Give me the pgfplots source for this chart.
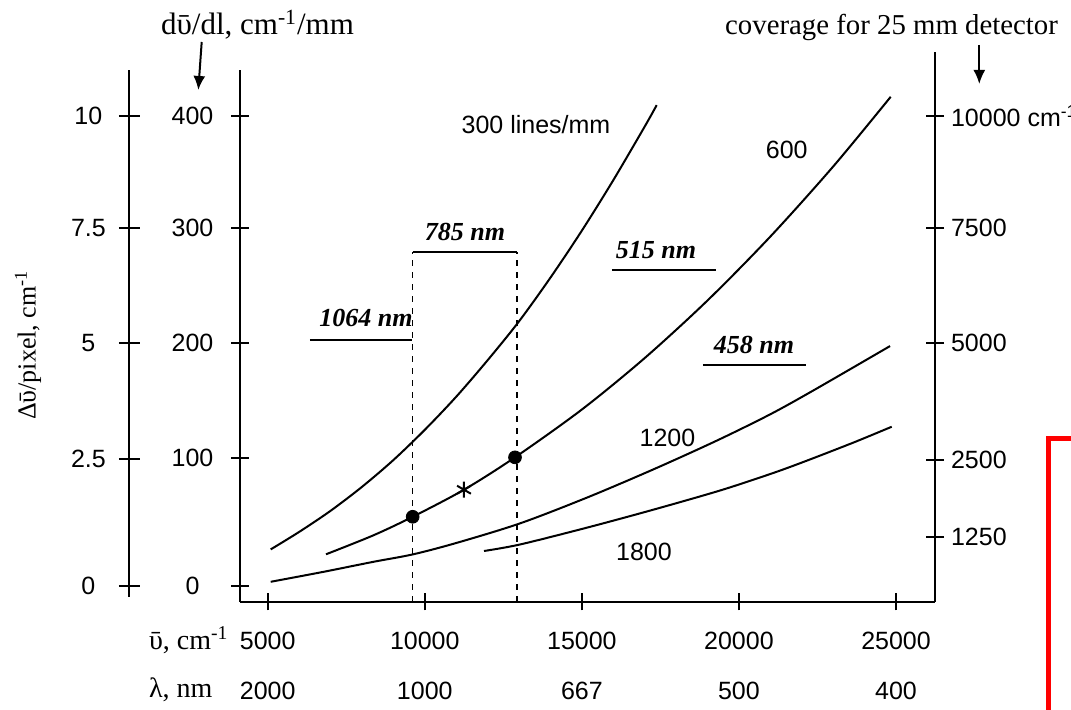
\documentclass[border=0pt]{standalone}
\usepackage{fontspec}
\setmainfont{Liberation Serif}
\newfontfamily\sans{Liberation Sans}
\usepackage{pgfplots}
\pgfplotsset{compat=1.18}
\usetikzlibrary{arrows.meta}
\begin{document}
\begin{tikzpicture}
\useasboundingbox (0,0) rectangle (535.5pt,355pt);
\pgfplotsset{
  base/.style={scale only axis, clip=false, width=347.5pt,
    xmin=4118, xmax=26241,
    tick align=inside,
    tick style={line width=1.1pt, black},
    /pgf/number format/assume math mode=true,
    ticklabel style={font=\sans\fontsize{12.5}{25}\selectfont},
  },
  noarrows/.style={
    axis line style={line width=1.1pt,-},
    every outer x axis line/.append style={-},
    every outer y axis line/.append style={-},
    every inner x axis line/.append style={-},
    every inner y axis line/.append style={-},
  }
}
% outer left axis (Delta nu / pixel)
\begin{axis}[base, at={(64.65pt,56.5pt)}, anchor=south west, width=20pt, height=263.5pt,
  ymin=-21.6, ymax=440.4, axis x line=none, axis y line=left, noarrows,
  major tick length=10.5pt, xtick=\empty,
  ytick={-11.9,99.1,201.1,301.8,400}, yticklabels={0,2.5,5,7.5,10},
  yticklabel style={anchor=center, xshift=-15.2pt}]
\addplot[draw=none] coordinates {(5000,0)};
\end{axis}
% right axis (coverage for 25 mm detector)
\begin{axis}[base, at={(120pt,54pt)}, anchor=south west, height=275pt,
  ymin=-25.9, ymax=456.1, axis x line=none, axis y line=right, noarrows,
  major tick length=9pt, xtick=\empty,
  ytick={31.1,98.5,201.1,301.8,400},
  yticklabels={1250,2500,5000,7500,{10000 cm\textsuperscript{-1}}},
  yticklabel style={anchor=west, xshift=0pt}]
\addplot[draw=none] coordinates {(5000,0)};
\end{axis}
% main axis
\begin{axis}[base, at={(120pt,54pt)}, anchor=south west, height=266pt,
  ymin=-25.9, ymax=440.4,
  axis x line=bottom, axis y line=left, noarrows, major tick length=8.5pt,
  xtick={5000,10000,15000,20000,25000},
  xticklabels={{5000\\2000},{10000\\1000},{15000\\667},{20000\\500},{25000\\400}},
  xticklabel style={align=center, anchor=north, yshift=-7pt},
  ytick={-11.7,100,201.1,301.8,400}, yticklabels={0,100,200,300,400},
  yticklabel style={anchor=center, xshift=-19.5pt}]
% 300 lines/mm
\addplot[black, line width=1pt, smooth] coordinates {
(5095,20.2) (6000,35.5) (7000,54) (8000,75) (9000,98.5) (10000,125)
(11000,154) (12000,186) (13000,220.1) (14000,258.4) (15000,299.6)
(16000,343.8) (17000,390.8) (17382,409.6)};
% 600 lines/mm
\addplot[black, line width=1pt, smooth] coordinates {
(6855,15.9) (8361,32.5) (9615,48.8) (11248,72.5) (12872,100.9)
(15000,142.8) (17000,187.9) (19000,238.4) (21000,294.4) (23000,355.8)
(24831,416.9)};
% 1200 lines/mm
\addplot[black, line width=1pt, smooth] coordinates {
(5095,-8.2) (6769,0.5) (8361,9.3) (9615,15.8) (11000,25.8) (13031,43.0)
(15154,65.5) (17274,90.3) (19292,115.5) (20989,138.5) (22368,159.5)
(24809,198.4)};
% 1800 lines/mm
\addplot[black, line width=1pt, smooth] coordinates {
(11885,18.8) (13031,24.5) (15154,39.2) (17274,55) (19397,71.8)
(21000,86.3) (22049,96.8) (23641,113.8) (24863,127.7)};
% 785 nm window
\addplot[black, line width=0.8pt, dashed] coordinates {(9615,-25.9) (9615,280.8)};
\addplot[black, line width=0.8pt, dashed] coordinates {(12926,-25.9) (12926,280.8)};
\addplot[black, line width=1.1pt] coordinates {(9615,280.8) (12926,280.8)};
% excitation lines
\addplot[black, line width=1.1pt] coordinates {(6346,203.7) (9590,203.7)};
\addplot[black, line width=1.1pt] coordinates {(15959,265.0) (19270,265.0)};
\addplot[black, line width=1.1pt] coordinates {(18855,181.8) (22134,181.8)};
% marks
\addplot[only marks, mark=*, mark size=3.2pt, black] coordinates {(9615,48.8) (12872,100.9)};
\addplot[only marks, mark=asterisk, mark size=4pt, black, line width=1pt] coordinates {(11248,72.5)};
\end{axis}
\begin{scope}[shift={(0pt,355pt)}, x=0.5pt, y=-0.5pt]
\node[font=\fontsize{15.5}{17}\selectfont] at (257.5,25) {dῡ/dl, cm\textsuperscript{-1}/mm};
\node[font=\fontsize{14.4}{16}\selectfont] at (891.5,27) {coverage for 25 mm detector};
\draw[line width=1pt, -{Latex[length=7pt,width=6pt]}] (201.7,42) -- (198.3,90);
\draw[line width=1pt, -{Latex[length=7pt,width=6pt]}] (979.3,45) -- (979.3,84);
\node[rotate=90, font=\fontsize{13}{15}\selectfont] at (28,345) {Δῡ/pixel, cm\textsuperscript{-1}};
\node[anchor=west, font=\fontsize{14}{16}\selectfont] at (142,640) {ῡ, cm\textsuperscript{-1}};
\node[anchor=west, font=\fontsize{14}{16}\selectfont] at (142,690) {λ, nm};
\node[font=\sans\fontsize{12.5}{14}\selectfont] at (536,125) {300 lines/mm};
\node[font=\sans\fontsize{12.5}{14}\selectfont] at (786.7,150) {600};
\node[font=\sans\fontsize{12.5}{14}\selectfont] at (667.5,438.3) {1200};
\node[font=\sans\fontsize{12.5}{14}\selectfont] at (644,551.7) {1800};
\node[font=\bfseries\itshape\fontsize{13}{15}\selectfont] at (465,231.7) {785 nm};
\node[font=\bfseries\itshape\fontsize{13}{15}\selectfont] at (366,318.3) {1064 nm};
\node[font=\bfseries\itshape\fontsize{13}{15}\selectfont] at (656,250) {515 nm};
\node[font=\bfseries\itshape\fontsize{13}{15}\selectfont] at (754,345) {458 nm};
\draw[red, line width=2.5pt] (1048.5,730) -- (1048.5,438.5) -- (1090,438.5);
\end{scope}
\end{tikzpicture}
\end{document}
